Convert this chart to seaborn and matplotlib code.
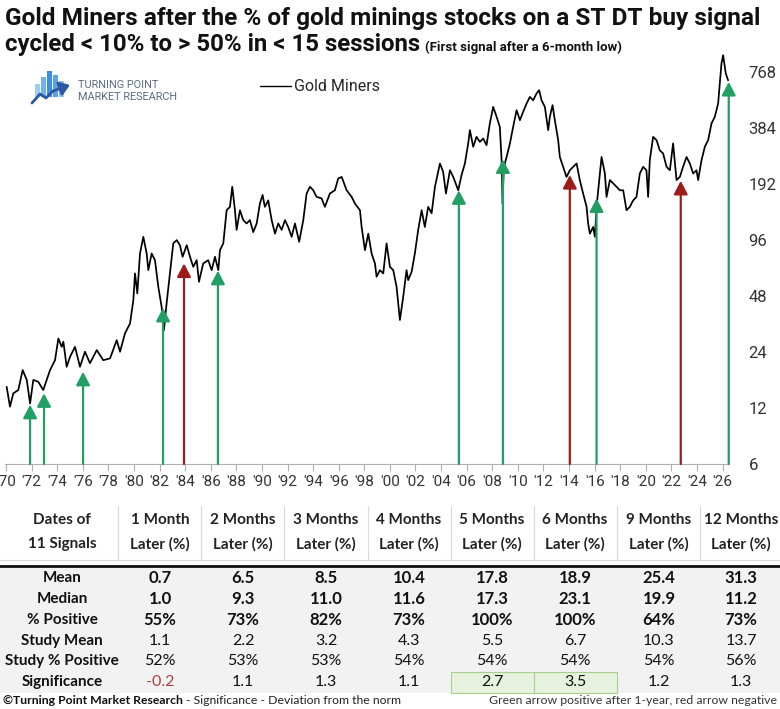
import matplotlib
matplotlib.use("Agg")
import matplotlib.pyplot as plt
import matplotlib.patches as mpatches
from matplotlib import font_manager
import pandas as pd
import seaborn as sns

# === data ===
gm_year = [1970.05, 1970.31, 1970.57, 1970.96, 1971.30, 1971.62, 1971.88, 1972.13, 1972.52, 1972.91,
           1973.44, 1973.83, 1974.09, 1974.35, 1974.48, 1974.74, 1975.00, 1975.39, 1975.78, 1976.17,
           1976.56, 1977.09, 1977.60, 1978.13, 1978.65, 1978.91, 1979.30, 1979.69, 1979.95, 1980.08,
           1980.26, 1980.47, 1980.73, 1980.99, 1981.12, 1981.38, 1981.64, 1981.90, 1982.16, 1982.34,
           1982.55, 1982.81, 1983.07, 1983.34, 1983.59, 1983.80, 1984.12, 1984.38, 1984.63, 1984.90,
           1985.08, 1985.41, 1985.80, 1986.07, 1986.33, 1986.59, 1986.72, 1986.98, 1987.24, 1987.50,
           1987.68, 1987.89, 1988.02, 1988.28, 1988.54, 1988.80, 1989.06, 1989.32, 1989.59, 1989.84,
           1990.05, 1990.23, 1990.49, 1990.76, 1991.02, 1991.27, 1991.54, 1991.80, 1992.05, 1992.32,
           1992.58, 1992.91, 1993.23, 1993.49, 1993.75, 1994.01, 1994.27, 1994.66, 1994.92, 1995.31,
           1995.70, 1995.96, 1996.23, 1996.62, 1997.01, 1997.27, 1997.66, 1997.79, 1998.05, 1998.31,
           1998.57, 1998.83, 1998.96, 1999.22, 1999.48, 1999.74, 2000.00, 2000.26, 2000.52, 2000.78,
           2001.04, 2001.30, 2001.43, 2001.70, 2001.95, 2002.21, 2002.48, 2002.73, 2002.99, 2003.26,
           2003.52, 2003.91, 2004.16, 2004.38, 2004.69, 2004.95, 2005.34, 2005.60, 2005.86, 2006.12,
           2006.25, 2006.51, 2006.77, 2007.03, 2007.29, 2007.55, 2007.81, 2008.07, 2008.34, 2008.59,
           2008.73, 2008.80, 2008.91, 2009.12, 2009.38, 2009.63, 2009.90, 2010.16, 2010.41, 2010.68,
           2010.94, 2011.20, 2011.46, 2011.66, 2011.85, 2012.11, 2012.37, 2012.50, 2012.71, 2012.89,
           2013.15, 2013.28, 2013.54, 2013.80, 2014.06, 2014.32, 2014.59, 2014.84, 2015.10, 2015.37,
           2015.49, 2015.63, 2015.88, 2016.02, 2016.15, 2016.41, 2016.54, 2016.80, 2016.93, 2017.19,
           2017.45, 2017.71, 2017.97, 2018.23, 2018.49, 2018.75, 2019.01, 2019.27, 2019.53, 2019.79,
           2020.05, 2020.18, 2020.31, 2020.57, 2020.84, 2021.09, 2021.35, 2021.62, 2021.88, 2022.13,
           2022.40, 2022.66, 2022.91, 2023.18, 2023.44, 2023.70, 2023.96, 2024.09, 2024.35, 2024.61,
           2024.87, 2025.13, 2025.39, 2025.65, 2025.78, 2025.91, 2026.04, 2026.25, 2026.43]
gm_value = [15.6, 12.2, 14.4, 15.0, 19.2, 17.0, 12.7, 17.0, 16.6, 15.0,
            19.2, 21.7, 28.4, 25.6, 27.3, 20.0, 22.6, 25.6, 20.0, 24.1,
            20.9, 24.6, 21.7, 22.2, 27.8, 24.1, 30.3, 34.2, 45.7, 63.6,
            49.6, 81.4, 100, 81.4, 66.2, 81.4, 74.9, 53.9, 42.0, 31.5,
            43.9, 63.6, 92.2, 96, 90.2, 78.1, 90.2, 78.1, 69.0, 74.9,
            57.3, 71.9, 74.9, 66.2, 78.1, 66.2, 84.8, 92.2, 139, 145,
            186, 139, 109, 139, 123, 118, 123, 106, 118, 151,
            168, 145, 157, 123, 104, 118, 109, 123, 113, 100,
            118, 94, 123, 171, 186, 178, 164, 161, 145, 171,
            178, 206, 210, 178, 164, 151, 139, 113, 84.8, 104,
            81.4, 71.9, 61, 66.2, 63.6, 92.2, 69, 66.2, 53.9, 35.7,
            47.6, 66.2, 58.5, 64.9, 81.4, 109, 139, 113, 145, 134,
            186, 248, 224, 171, 228, 210, 178, 215, 248, 318,
            375, 305, 345, 324, 338, 311, 407, 500, 442, 390,
            258, 151, 238, 269, 318, 390, 480, 424, 470, 521,
            566, 543, 590, 615, 543, 500, 375, 442, 511, 424,
            331, 269, 238, 210, 228, 238, 248, 202, 171, 145,
            118, 104, 113, 100, 145, 219, 269, 219, 164, 202,
            194, 186, 178, 178, 139, 145, 157, 164, 219, 238,
            228, 164, 258, 345, 331, 292, 281, 238, 228, 318,
            202, 210, 238, 269, 248, 219, 228, 202, 258, 305,
            331, 407, 442, 521, 668, 855, 948, 756, 695]

signal_year = [1971.88, 1972.97, 1976.02, 1982.27, 1983.91, 1986.56,
               2005.39, 2008.83, 2014.06, 2016.15, 2022.73, 2026.48]
signal_level = [12.5, 14.4, 18.8, 41.5, 71.9, 65.7, 178, 261, 215, 161, 200, 681]
signal_up = [True, True, True, True, False, True, True, True, False, True, False, True]

year_ticks = list(range(1970, 2027, 2))
price_ticks = [6, 12, 24, 48, 96, 192, 384, 768]

col_headers = ["Dates of\n11 Signals", "1 Month\nLater (%)", "2 Months\nLater (%)", "3 Months\nLater (%)",
               "4 Months\nLater (%)", "5 Months\nLater (%)", "6 Months\nLater (%)", "9 Months\nLater (%)",
               "12 Months\nLater (%)"]
row_names = ["Mean", "Median", "% Positive", "Study Mean", "Study % Positive", "Significance"]
mean_ret = [0.7, 6.5, 8.5, 10.4, 17.8, 18.9, 25.4, 31.3]
median_ret = [1.0, 9.3, 11.0, 11.6, 17.3, 23.1, 19.9, 11.2]
pct_positive = [55, 73, 82, 73, 100, 100, 64, 73]
study_mean = [1.1, 2.2, 3.2, 4.3, 5.5, 6.7, 10.3, 13.7]
study_pct_positive = [52, 53, 53, 54, 54, 54, 54, 56]
significance = [-0.2, 1.1, 1.3, 1.1, 2.7, 3.5, 1.2, 1.3]


def pick_font(*names):
    for n in names:
        try:
            font_manager.findfont(font_manager.FontProperties(family=n), fallback_to_default=False)
            return n
        except ValueError:
            pass
    return "DejaVu Sans"


sns.set_theme(style="white")
NARROW = pick_font("Liberation Sans Narrow", "Roboto", "Liberation Sans")
CALIB = pick_font("Lato", "Open Sans")
plt.rcParams["font.family"] = [NARROW, "DejaVu Sans"]

GREEN = "#22a064"
RED = "#9c1c1c"
W, H = 780, 709

fig = plt.figure(figsize=(7.8, 7.09), dpi=100)
fig.patch.set_facecolor("white")

# --- main chart ---
ax = fig.add_axes([5 / W, (H - 464) / H, 724 / W, 415 / H])
df = pd.DataFrame({"year": gm_year, "value": gm_value})
sns.lineplot(data=df, x="year", y="value", ax=ax, color="black", lw=1.25, label="Gold Miners", zorder=2)
ax.set_yscale("log", base=2)
ax.set_ylim(6, 1024)
ax.set_xlim(1969.92, 2026.5)
ax.set_yticks(price_ticks)
ax.set_yticklabels([str(v) for v in price_ticks])
ax.yaxis.tick_right()
ax.minorticks_off()
ax.set_xticks(year_ticks)
ax.set_xticklabels(["'" + str(y)[2:] for y in year_ticks])
ax.tick_params(axis="y", length=0, pad=14, labelsize=12, labelcolor="#333333")
ax.tick_params(axis="x", length=5, width=0.8, color="#b0b0b0", direction="out", pad=3,
               labelsize=11, labelcolor="#333333", bottom=True)
ax.set_xlabel("")
ax.set_ylabel("")
for s in ["top", "left", "right"]:
    ax.spines[s].set_visible(False)
ax.spines["bottom"].set_color("#b0b0b0")
ax.spines["bottom"].set_linewidth(0.8)
ax.patch.set_alpha(0)

for yr, lvl, up in zip(signal_year, signal_level, signal_up):
    ax.annotate("", xy=(yr, lvl), xytext=(yr, 6), annotation_clip=False,
                arrowprops=dict(arrowstyle="-|>,head_length=0.8,head_width=0.42",
                                color=GREEN if up else RED, lw=1.6,
                                shrinkA=0, shrinkB=0, mutation_scale=10),
                zorder=3)

leg = ax.legend(loc="upper left", bbox_to_anchor=(254 / W, 1 - 73 / H), bbox_transform=fig.transFigure,
                frameon=False, fontsize=11.5, handlelength=1.9, handletextpad=0.2, borderaxespad=0)
for line in leg.get_lines():
    line.set_linewidth(1.0)

# --- titles ---
fig.text(5 / W, 1 - 18 / H, "Gold Miners after the % of gold minings stocks on a ST DT buy signal",
         fontsize=17.6, fontweight="bold", va="center", ha="left", color="#111111")
t2 = fig.text(5 / W, 1 - 45 / H, "cycled < 10% to > 50% in < 15 sessions",
              fontsize=17.3, fontweight="bold", va="center", ha="left", color="#111111")
fig.canvas.draw()
bb = t2.get_window_extent()
fig.text(bb.x1 / W + 5 / W, 1 - 47 / H, "(First signal after a 6-month low)",
         fontsize=9.5, fontweight="bold", va="center", ha="left", color="#111111")

# --- overlay in pixel coordinates: logo and table ---
ov = fig.add_axes([0, 0, 1, 1], zorder=5)
ov.set_xlim(0, W)
ov.set_ylim(H, 0)
ov.axis("off")
ov.patch.set_alpha(0)

# logo
bar_x = [35, 41, 47, 53, 59]
bar_top = [84, 77, 71, 75, 81]
bar_col = ["#9fcdf2", "#6fb2ec", "#3f8fe0", "#5aa3e8", "#8cc3f0"]
for bx, bt, bc in zip(bar_x, bar_top, bar_col):
    ov.add_patch(mpatches.Rectangle((bx, bt), 4.5, 97 - bt, color=bc, lw=0))
ov.plot([32, 40, 46, 53], [103, 94, 98, 91], color="#2b5aa3", lw=2, solid_capstyle="round")
ov.annotate("", xy=(70, 85), xytext=(53, 91),
            arrowprops=dict(arrowstyle="-|>,head_length=0.5,head_width=0.35", color="#2b5aa3", lw=2,
                            shrinkA=0, shrinkB=0))
ov.text(78, 84.5, "TURNING POINT", fontsize=7.8, color="#5a6a86", va="center", ha="left")
ov.text(78, 97.5, "MARKET RESEARCH", fontsize=7.8, color="#5a6a86", va="center", ha="left")

# table
col_x = [62, 160, 243, 326, 409, 492, 575, 659, 741]
sep_x = [118, 201, 284, 368, 451, 534, 617, 700]
for sx in sep_x:
    ov.plot([sx, sx], [506, 559], color="#d9d9d9", lw=0.8)
ov.plot([0, W], [560, 560], color="#d9d9d9", lw=0.8)
for cx, head in zip(col_x, col_headers):
    l1, l2 = head.split("\n")
    ov.text(cx, 520, l1, family=CALIB, fontsize=11, fontweight="bold", ha="center", va="center", color="#222222")
    ov.text(cx, 544, l2, family=CALIB, fontsize=11, fontweight="bold", ha="center", va="center", color="#222222")

ov.add_patch(mpatches.Rectangle((0, 567), W, 126, color="#f2f2f2", lw=0, zorder=0))
ov.plot([0, W], [566, 566], color="#111111", lw=2.0)

row_y = [578, 599, 620, 641, 661, 682]
rows = [
    ([f"{v:.1f}" for v in mean_ret], True),
    ([f"{v:.1f}" for v in median_ret], True),
    ([f"{v}%" for v in pct_positive], True),
    ([f"{v:.1f}" for v in study_mean], False),
    ([f"{v}%" for v in study_pct_positive], False),
    ([f"{v:.1f}" for v in significance], False),
]
for ry, name, (vals, bold) in zip(row_y, row_names, rows):
    ov.text(col_x[0], ry, name, family=CALIB, fontsize=11, fontweight="bold", ha="center", va="center",
            color="#111111")
    for cx, v in zip(col_x[1:], vals):
        c = "#111111"
        if name == "Significance" and v.startswith("-"):
            c = "#b0413e"
        ov.text(cx, ry, v, family=CALIB, fontsize=12 if bold else 11.5,
                fontweight="bold" if bold else "normal", ha="center", va="center", color=c)

# highlighted significance cells (5 and 6 months)
for k in [5, 6]:
    ov.add_patch(mpatches.Rectangle((sep_x[k - 1], 672), sep_x[k] - sep_x[k - 1], 21,
                                    facecolor="#e6f1de", edgecolor="#a8cf8e", lw=0.8, zorder=1))

f1 = ov.text(3, 701, "\u00a9Turning Point Market Research", family=CALIB, fontsize=8.8, fontweight="bold",
             ha="left", va="center", color="#111111")
fig.canvas.draw()
fx = f1.get_window_extent().x1
ov.text(fx + 3, 701, "- Significance - Deviation from the norm", family=CALIB, fontsize=8.8,
        ha="left", va="center", color="#222222")
ov.text(777, 701, "Green arrow positive after 1-year, red arrow negative", family=CALIB, fontsize=8.8,
        ha="right", va="center", color="#333333")

fig.savefig("out.png", dpi=100, facecolor="white")
